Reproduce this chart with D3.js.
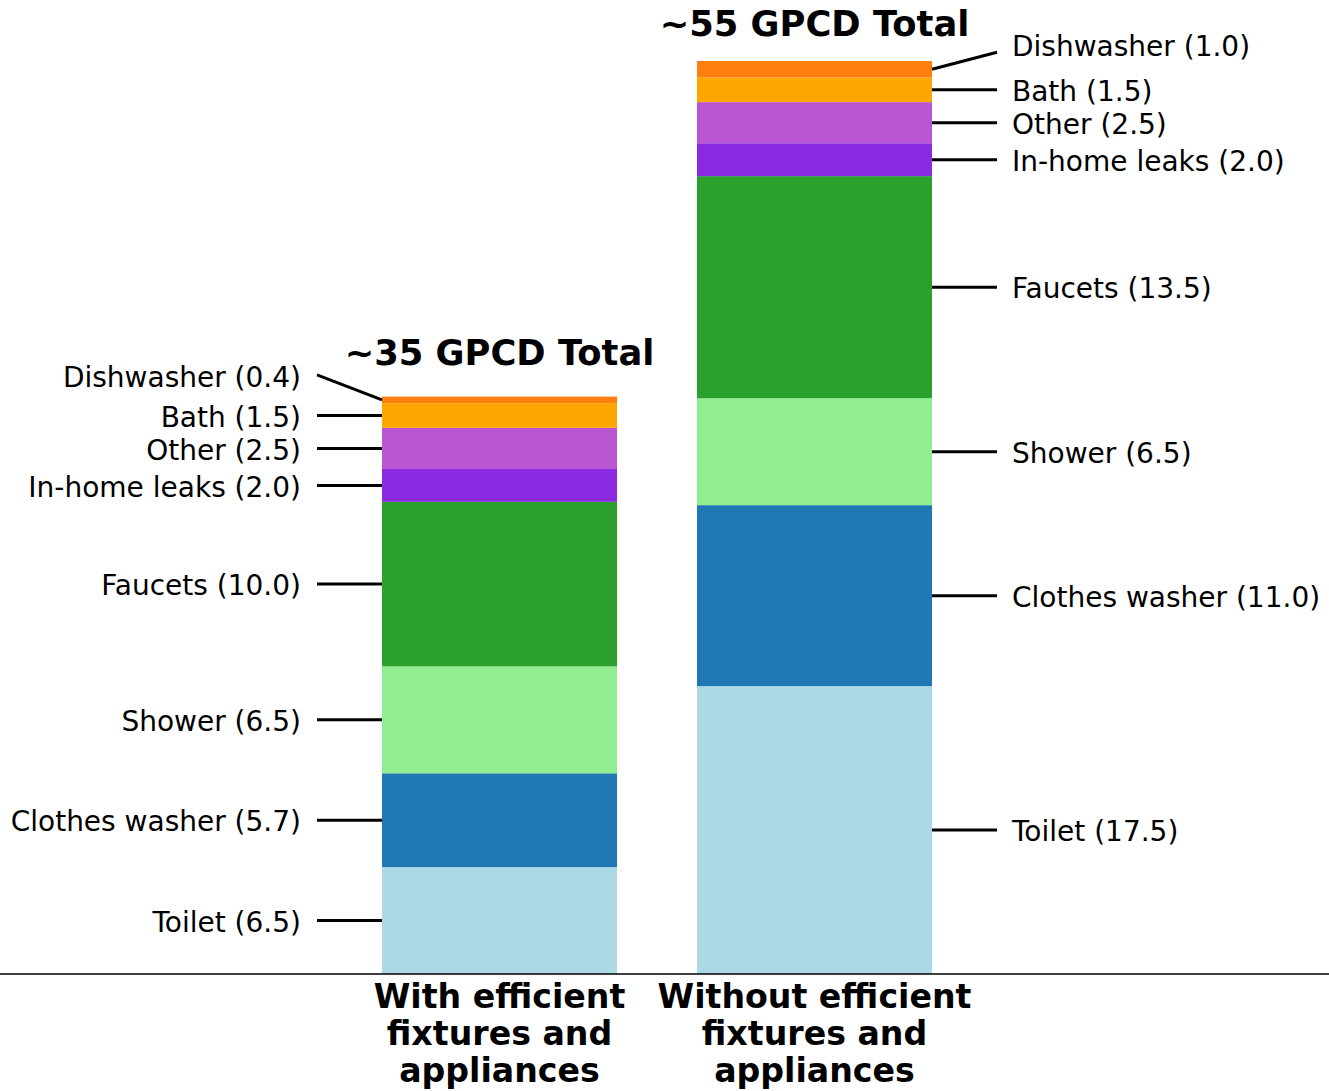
<!DOCTYPE html>
<html>
<head>
<meta charset="utf-8">
<script src="https://cdn.jsdelivr.net/npm/d3@7"></script>
<style>
  body { margin: 0; background: #fff; }
  svg { display: block; font-family: "DejaVu Sans", sans-serif; }
</style>
</head>
<body>
<div id="chart"></div>
<script>
// categories, bottom to top
const categories = ["Toilet", "Clothes washer", "Shower", "Faucets", "In-home leaks", "Other", "Bath", "Dishwasher"];
const colors = ["#add8e6", "#1f77b4", "#90ee90", "#2ca02c", "#8a2be2", "#ba55d3", "#ffa500", "#ff7f0e"];

const scenarios = ["efficient", "standard"];
const efficientValues = [6.5, 5.7, 6.5, 10.0, 2.0, 2.5, 1.5, 0.4];
const standardValues = [17.5, 11.0, 6.5, 13.5, 2.0, 2.5, 1.5, 1.0];
const barLabels = [["With efficient", "fixtures and", "appliances"], ["Without efficient", "fixtures and", "appliances"]];
const totalLabels = ["~35 GPCD Total", "~55 GPCD Total"];
const totalApprox = [35, 55];

const width = 1329, height = 1091;
const svg = d3.select("#chart").append("svg")
  .attr("width", width).attr("height", height);

// one row per scenario, columns per category
const rows = scenarios.map((s, i) => {
  const vals = i === 0 ? efficientValues : standardValues;
  const r = { scenario: s };
  categories.forEach((c, j) => r[c] = vals[j]);
  return r;
});

const stack = d3.stack().keys(categories);
const series = stack(rows);

const x = d3.scaleBand().domain(scenarios).range([382, 932]).paddingInner(80 / 315);
const y = d3.scaleLinear().domain([0, 55.5]).range([974, 61]);
const color = d3.scaleOrdinal().domain(categories).range(colors);

// bars
svg.append("g").selectAll("g")
  .data(series)
  .join("g")
  .attr("fill", d => color(d.key))
  .selectAll("rect")
  .data(d => d.map(p => ({ p, scenario: p.data.scenario })))
  .join("rect")
  .attr("x", d => x(d.scenario))
  .attr("y", d => y(d.p[1]))
  .attr("width", x.bandwidth())
  .attr("height", d => y(d.p[0]) - y(d.p[1]));

// baseline
svg.append("line")
  .attr("x1", 0).attr("x2", width)
  .attr("y1", y(0)).attr("y2", y(0))
  .attr("stroke", "#000").attr("stroke-width", 1.5);

// segment labels with leader lines
const labelG = svg.append("g");
series.forEach(s => {
  s.forEach((p, i) => {
    const val = p[1] - p[0];
    const left = i === 0;
    const mid = y((p[0] + p[1]) / 2);
    let ly = mid, lineEnd = mid;
    if (s.key === "Dishwasher") {
      // small top segment: label is pushed up
      ly = y((p[0] + p[1]) / 2 + 1.46);
      lineEnd = left ? ly - 1 : ly + 7;
    }
    const barEdge = left ? x(p.data.scenario) : x(p.data.scenario) + x.bandwidth();
    const tickEnd = left ? barEdge - 65 : barEdge + 65;
    labelG.append("line")
      .attr("x1", barEdge).attr("y1", mid)
      .attr("x2", tickEnd).attr("y2", lineEnd)
      .attr("stroke", "#000").attr("stroke-width", 3);
    labelG.append("text")
      .attr("x", left ? tickEnd - 16 : tickEnd + 15)
      .attr("y", ly)
      .attr("dy", "0.4em")
      .attr("text-anchor", left ? "end" : "start")
      .attr("font-size", 28)
      .attr("fill", "#000")
      .text(`${s.key} (${val.toFixed(1)})`);
  });
});

// totals above bars
svg.append("g").selectAll("text")
  .data(scenarios)
  .join("text")
  .attr("x", d => x(d) + x.bandwidth() / 2)
  .attr("y", (d, i) => y(totalApprox[i] + 2))
  .attr("text-anchor", "middle")
  .attr("font-size", 35.3)
  .attr("font-weight", "bold")
  .text((d, i) => totalLabels[i]);

// category labels under bars
const xl = svg.append("g").selectAll("text")
  .data(scenarios)
  .join("text")
  .attr("x", d => x(d) + x.bandwidth() / 2)
  .attr("y", 1008)
  .attr("text-anchor", "middle")
  .attr("font-size", 33.2)
  .attr("font-weight", "bold");
xl.selectAll("tspan")
  .data((d, i) => barLabels[i])
  .join("tspan")
  .attr("x", function () { return d3.select(this.parentNode).attr("x"); })
  .attr("dy", (d, i) => i === 0 ? 0 : 36.8)
  .text(d => d);
</script>
</body>
</html>
